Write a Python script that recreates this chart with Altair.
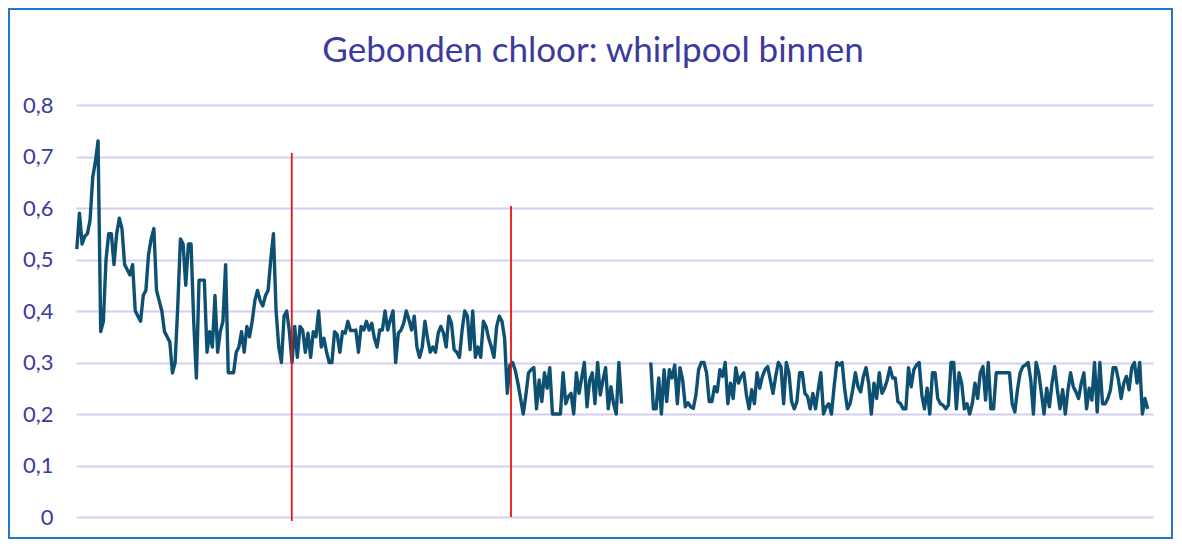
import altair as alt
import pandas as pd

TITLE = "Gebonden chloor: whirlpool binnen"

period1 = [
    0.52, 0.59, 0.53, 0.545, 0.55, 0.577, 0.66, 0.69, 0.73, 0.36,
    0.38, 0.50, 0.55, 0.55, 0.49, 0.55, 0.58, 0.56, 0.49, 0.48,
    0.47, 0.49, 0.40, 0.39, 0.38, 0.43, 0.44, 0.51, 0.54, 0.56,
    0.44, 0.42, 0.40, 0.36, 0.35, 0.34, 0.28, 0.30, 0.41, 0.54,
    0.53, 0.45, 0.53, 0.53, 0.38, 0.27, 0.46, 0.46, 0.46, 0.32,
    0.36, 0.33, 0.43, 0.32, 0.36, 0.38, 0.49, 0.28, 0.28, 0.28,
    0.32, 0.33, 0.36, 0.32, 0.37, 0.35, 0.38, 0.42, 0.44, 0.42,
    0.41, 0.43, 0.44, 0.50, 0.55, 0.40, 0.33, 0.30, 0.39, 0.40,
    0.36, 0.30, 0.37, 0.31,
]
period2 = [
    0.37, 0.363, 0.32, 0.357, 0.31, 0.36, 0.35, 0.40, 0.33, 0.347,
    0.32, 0.30, 0.30, 0.36, 0.354, 0.32, 0.36, 0.357, 0.38, 0.362,
    0.362, 0.363, 0.32, 0.37, 0.363, 0.38, 0.363, 0.376, 0.347, 0.33,
    0.363, 0.363, 0.40, 0.363, 0.383, 0.40, 0.30, 0.357, 0.363, 0.376,
    0.40, 0.383, 0.363, 0.39, 0.33, 0.31, 0.33, 0.38, 0.347, 0.32,
    0.33, 0.32, 0.357, 0.37, 0.357, 0.33, 0.39, 0.376, 0.325, 0.32,
    0.31, 0.363, 0.40, 0.39, 0.325, 0.40, 0.31, 0.33, 0.31, 0.38,
    0.37, 0.347, 0.33, 0.31, 0.37, 0.39, 0.38, 0.347, 0.24,
]
period3a = [
    0.295, 0.30, 0.285, 0.26, 0.23, 0.20, 0.237, 0.28, 0.286, 0.29,
    0.21, 0.266, 0.224, 0.28, 0.25, 0.29, 0.20, 0.20, 0.20, 0.20,
    0.28, 0.22, 0.234, 0.24, 0.20, 0.28, 0.24, 0.27, 0.30, 0.214,
    0.266, 0.28, 0.22, 0.30, 0.237, 0.266, 0.29, 0.21, 0.253, 0.22,
    0.20, 0.30, 0.22,
]
missing_count = 10
period3b = [
    0.30, 0.21, 0.21, 0.27, 0.20, 0.286, 0.224, 0.286, 0.27, 0.295,
    0.22, 0.29, 0.266, 0.214, 0.222, 0.214, 0.211, 0.237, 0.286, 0.30,
    0.30, 0.28, 0.224, 0.224, 0.253, 0.243, 0.286, 0.273, 0.30, 0.22,
    0.26, 0.23, 0.29, 0.26, 0.273, 0.28, 0.237, 0.21, 0.247, 0.22,
    0.28, 0.25, 0.273, 0.286, 0.292, 0.266, 0.24, 0.273, 0.30, 0.292,
    0.22, 0.30, 0.28, 0.224, 0.21, 0.224, 0.28, 0.28, 0.24, 0.234,
    0.21, 0.24, 0.21, 0.247, 0.28, 0.20, 0.214, 0.22, 0.20, 0.253,
    0.30, 0.295, 0.30, 0.247, 0.21, 0.22, 0.247, 0.28, 0.253, 0.243,
    0.273, 0.29, 0.26, 0.20, 0.26, 0.23, 0.28, 0.24, 0.25, 0.266,
    0.29, 0.27, 0.27, 0.224, 0.22, 0.21, 0.21, 0.29, 0.253, 0.286,
    0.295, 0.30, 0.237, 0.21, 0.25, 0.20, 0.28, 0.28, 0.23, 0.22,
    0.217, 0.21, 0.217, 0.30, 0.30, 0.21, 0.28, 0.26, 0.21, 0.22,
    0.20, 0.22, 0.26, 0.23, 0.28, 0.292, 0.227, 0.30, 0.21, 0.21,
    0.28, 0.28, 0.28, 0.28, 0.28, 0.28, 0.22, 0.204, 0.247, 0.28,
    0.292, 0.295, 0.30, 0.266, 0.20, 0.30, 0.28, 0.24, 0.20, 0.25,
    0.214, 0.26, 0.292, 0.247, 0.21, 0.247, 0.20, 0.247, 0.28, 0.253,
    0.243, 0.23, 0.26, 0.28, 0.21, 0.25, 0.227, 0.30, 0.204, 0.30,
    0.22, 0.22, 0.23, 0.247, 0.29, 0.29, 0.266, 0.23, 0.26, 0.273,
    0.247, 0.29, 0.30, 0.26, 0.30, 0.20, 0.23, 0.21,
]

y_ticks = [0, 0.1, 0.2, 0.3, 0.4, 0.5, 0.6, 0.7, 0.8]

# red marker lines (position in measurement index, top and bottom value)
marker_pos = [80.9, 163.4]
marker_top = [0.707, 0.604]
marker_bottom = [-0.008, 0.0]

# ---- build table
rows = []
first_part = period1 + period2 + period3a
i = 0
for v in first_part:
    rows.append({"i": i, "v": v, "part": "a"})
    i += 1
i += missing_count
for v in period3b:
    rows.append({"i": i, "v": v, "part": "b"})
    i += 1
df = pd.DataFrame(rows)
markers = pd.DataFrame({"x": marker_pos, "top": marker_top, "bottom": marker_bottom})

TXT = "#3D3A9E"
GRID = "#D3CFF0"
LINE = "#0E5072"
FONT = "Lato"

x_scale = alt.Scale(domain=[-0.3, 405], nice=False, zero=False)
y_scale = alt.Scale(domain=[0, 0.8], nice=False)

one_row = alt.Data(values=[{"k": 1}])

border = alt.Chart(one_row).mark_rect(
    fillOpacity=0, stroke="#1F78C8", strokeWidth=2
).encode(
    x=alt.value(-67), x2=alt.value(1096), y=alt.value(-96), y2=alt.value(433)
)

title = alt.Chart(one_row).mark_text(
    text=TITLE,
    font=FONT,
    fontSize=35,
    color=TXT,
    align="center",
    baseline="alphabetic",
).encode(x=alt.value(517), y=alt.value(-43))

y_axis = alt.Axis(
    values=y_ticks,
    title=None,
    grid=True,
    gridColor=GRID,
    gridWidth=2,
    domain=False,
    ticks=False,
    labelExpr="replace(format(datum.value, '.1~f'), '.', ',')",
    labelFontSize=22,
    labelColor=TXT,
    labelFont=FONT,
    labelPadding=23,
)

line = alt.Chart(df).mark_line(
    color=LINE, strokeWidth=3.4, strokeJoin="round"
).encode(
    x=alt.X("i:Q", scale=x_scale, axis=None),
    y=alt.Y("v:Q", scale=y_scale, axis=y_axis),
    detail="part:N",
)

rules = alt.Chart(markers).mark_rule(color="#EE1111", strokeWidth=1.8).encode(
    x=alt.X("x:Q", scale=x_scale, axis=None),
    y=alt.Y("top:Q", scale=y_scale, axis=y_axis),
    y2="bottom:Q",
)

chart = alt.layer(border, title, line, rules).properties(
    width=1077,
    height=412,
    autosize=alt.AutoSizeParams(type="none"),
    padding={"left": 68, "top": 97, "right": 21, "bottom": 22},
    background="white",
).configure_view(strokeWidth=0, stroke=None)

chart.save("out.html", embed_options={"renderer": "svg", "actions": False})
